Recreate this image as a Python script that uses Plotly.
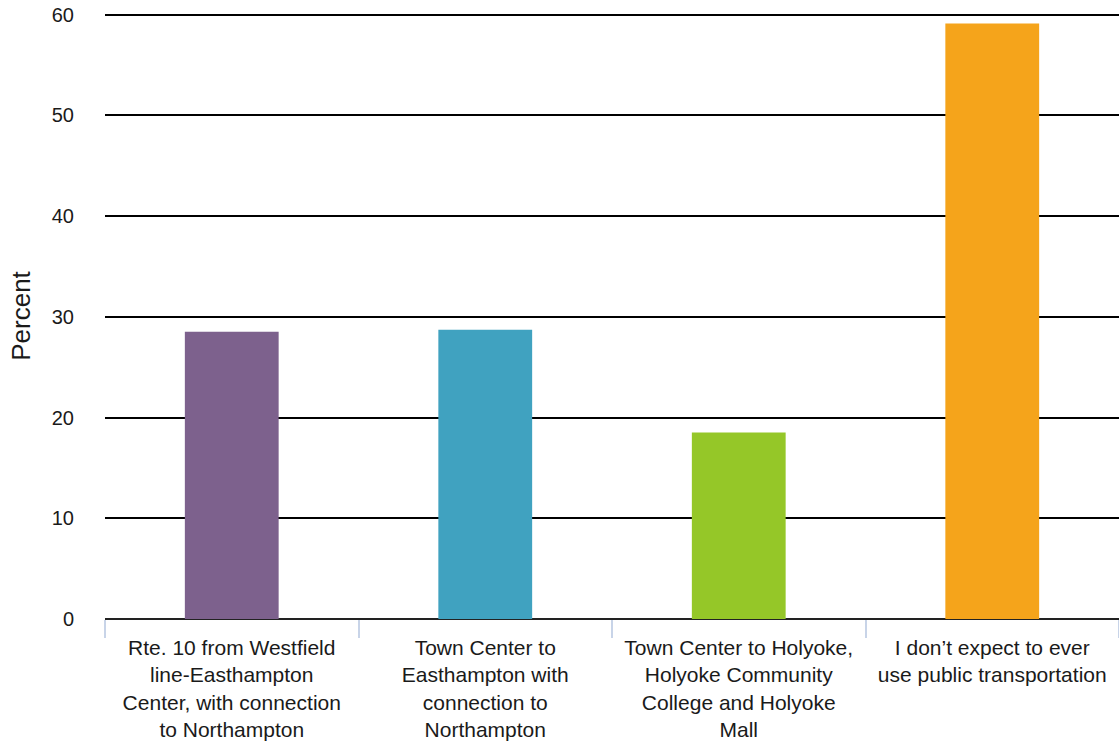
import plotly.graph_objects as go

categories = [
    "Rte. 10 from Westfield<br>line-Easthampton<br>Center, with connection<br>to Northampton",
    "Town Center to<br>Easthampton with<br>connection to<br>Northampton",
    "Town Center to Holyoke,<br>Holyoke Community<br>College and Holyoke<br>Mall",
    "I don\u2019t expect to ever<br>use public transportation",
]
values = [28.5, 28.7, 18.5, 59.1]
colors = ["#7d618d", "#40a2c0", "#95c728", "#f5a41b"]
y_ticks = [0, 10, 20, 30, 40, 50, 60]

fig = go.Figure(go.Bar(x=categories, y=values, marker=dict(color=colors, line=dict(width=0)), width=0.37))

fig.update_layout(
    width=1119, height=744,
    margin=dict(l=105, r=0, t=13, b=125),
    paper_bgcolor="white", plot_bgcolor="white",
    font=dict(family="Liberation Sans, Arial, sans-serif", size=20, color="#1a1a1a"),
    showlegend=False,
)
fig.update_xaxes(
    type="category", ticks="outside", tickson="boundaries", ticklen=18,
    tickcolor="#c8d4e8", tickwidth=2, showgrid=False, showline=False,
    tickfont=dict(size=21), automargin=False, ticklabelstandoff=14,
)
fig.update_yaxes(
    range=[0, 60.15], tickvals=y_ticks, showgrid=True, gridcolor="black", gridwidth=2,
    zeroline=True, zerolinecolor="#222", zerolinewidth=2, showline=False,
    ticks="", ticklabelstandoff=30, tickfont=dict(size=20), automargin=False,
    ticklabeloverflow="allow",
    title=dict(text="Percent", font=dict(size=26), standoff=13),
)

fig.write_html(
    "out.html",
    config={"displayModeBar": False},
    post_script="document.body.style.margin='0';document.body.style.overflow='hidden';",
)
